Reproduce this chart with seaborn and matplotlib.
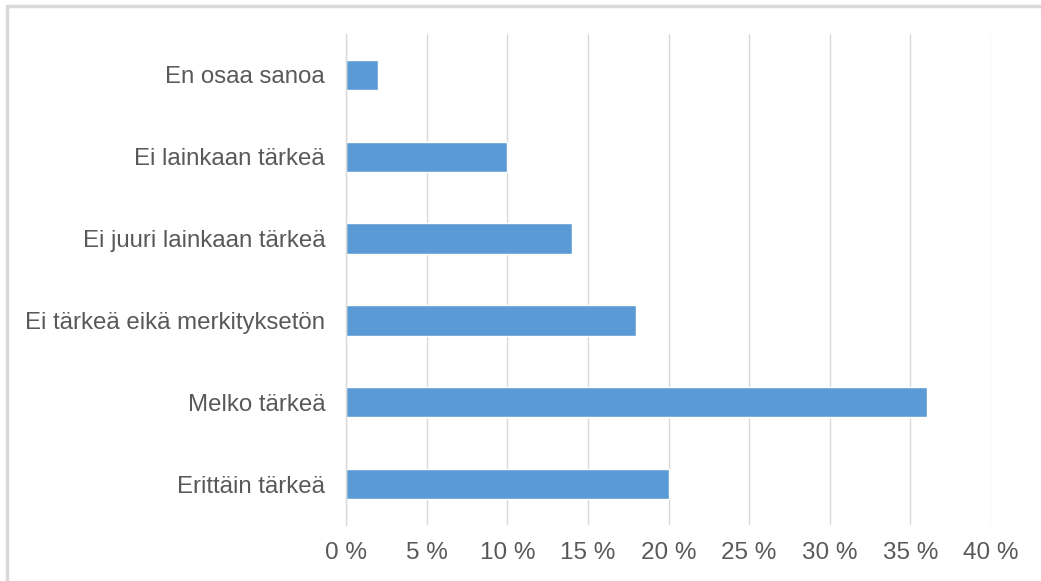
import matplotlib
matplotlib.use("Agg")
import matplotlib.pyplot as plt
import seaborn as sns
import pandas as pd
from matplotlib.lines import Line2D
from matplotlib.ticker import FuncFormatter

categories = ["En osaa sanoa", "Ei lainkaan tärkeä", "Ei juuri lainkaan tärkeä",
              "Ei tärkeä eikä merkityksetön", "Melko tärkeä", "Erittäin tärkeä"]
values = [2, 10, 14, 18, 36, 20]
xticks = [0, 5, 10, 15, 20, 25, 30, 35, 40]

df = pd.DataFrame({"cat": categories, "val": values})

sns.set_style("white")
plt.rcParams['font.family'] = ['Liberation Sans', 'DejaVu Sans']

W, H = 1041, 581
fig = plt.figure(figsize=(W / 100, H / 100), dpi=100)
ax = fig.add_axes([346 / W, 1 - 525 / H, (991 - 346) / W, (525 - 34) / H])

sns.barplot(data=df, x="val", y="cat", order=categories, color="#5B9BD5",
            saturation=1, width=0.37, ax=ax, orient="h")

ax.set_xlim(0, 40)
ax.set_xticks(xticks)
ax.xaxis.set_major_formatter(FuncFormatter(lambda v, p: f"{int(v)} %"))
ax.set_xlabel("")
ax.set_ylabel("")
ax.grid(axis="x", color="#D9D9D9", linewidth=1)
ax.set_axisbelow(True)
for s in ["top", "right", "bottom"]:
    ax.spines[s].set_visible(False)
ax.spines["left"].set_color("#D9D9D9")
ax.spines["left"].set_linewidth(1)
ax.tick_params(axis="y", length=0, labelsize=17.3, colors="#595959", pad=15)
ax.tick_params(axis="x", length=0, labelsize=17.5, colors="#595959", pad=12)

# outer chart border (top and left edges visible)
fig.add_artist(Line2D([6.5 / W, 1.0], [1 - 6 / H, 1 - 6 / H], transform=fig.transFigure,
                      color="#D9D9D9", linewidth=2.5))
fig.add_artist(Line2D([7 / W, 7 / W], [0.0, 1 - 6 / H], transform=fig.transFigure,
                      color="#D9D9D9", linewidth=2.5))

fig.savefig("out.png", dpi=100, facecolor="white")
